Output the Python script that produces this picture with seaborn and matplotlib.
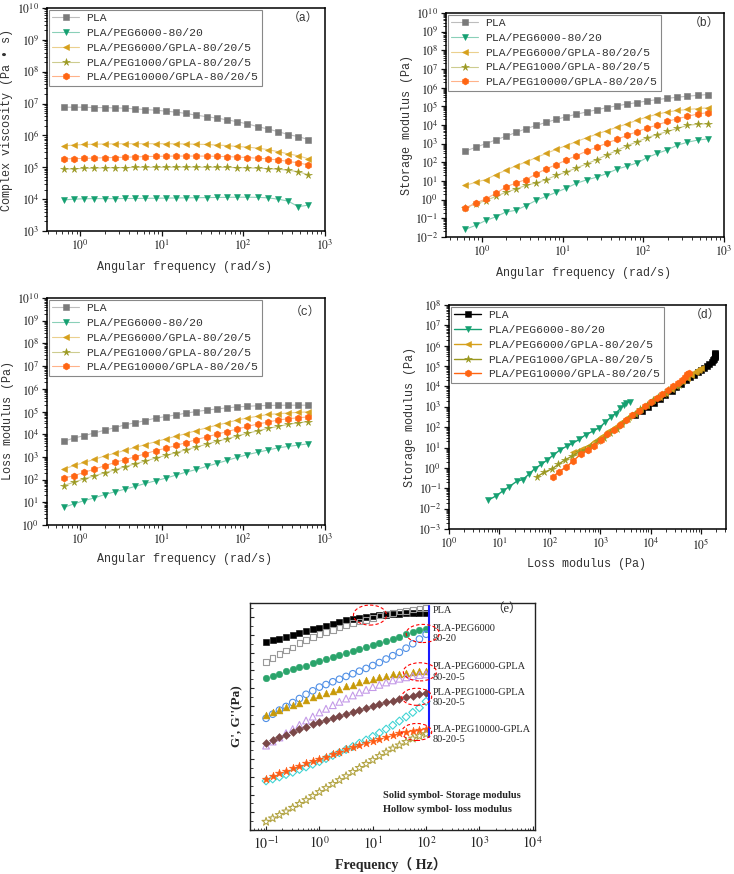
import numpy as np
import pandas as pd
import matplotlib
matplotlib.use('Agg')
import matplotlib.pyplot as plt
from matplotlib.patches import Ellipse
from matplotlib.ticker import LogLocator, FuncFormatter, NullFormatter
import seaborn as sns

sns.set_style('ticks')
plt.rcParams['font.family'] = ['Liberation Mono', 'Noto Sans CJK SC', 'DejaVu Sans']
plt.rcParams['mathtext.fontset'] = 'stix'

# ── Data (a)-(d): angular frequency sweep ─────────────────────────
omega = [0.628, 0.838, 1.12, 1.49, 1.99, 2.65, 3.53, 4.71, 6.28, 8.38, 11.2, 14.9,
         19.9, 26.5, 35.3, 47.1, 62.8, 83.8, 112, 149, 199, 265, 353, 471, 628]

LABELS = ['PLA', 'PLA/PEG6000-80/20', 'PLA/PEG6000/GPLA-80/20/5',
          'PLA/PEG1000/GPLA-80/20/5', 'PLA/PEG10000/GPLA-80/20/5']

# complex viscosity (Pa·s)
eta_pla = [7.7e6, 7.7e6, 7.7e6, 7.5e6, 7.5e6, 7.3e6, 7.2e6, 6.8e6, 6.5e6, 6.2e6, 5.8e6, 5.4e6,
           4.9e6, 4.3e6, 3.9e6, 3.5e6, 3.1e6, 2.7e6, 2.3e6, 1.9e6, 1.6e6, 1.32e6, 1.07e6, 9.2e5, 7.4e5]
eta_peg6 = [9.5e3, 1.0e4, 1.03e4, 1.04e4, 1.04e4, 1.04e4, 1.05e4, 1.05e4, 1.06e4, 1.07e4, 1.08e4, 1.09e4,
            1.1e4, 1.11e4, 1.12e4, 1.13e4, 1.14e4, 1.15e4, 1.15e4, 1.14e4, 1.1e4, 1.0e4, 8.7e3, 5.8e3, 6.5e3]
eta_peg6g = [4.7e5, 5.0e5, 5.2e5, 5.3e5, 5.4e5, 5.45e5, 5.5e5, 5.5e5, 5.5e5, 5.5e5, 5.5e5, 5.45e5,
             5.4e5, 5.3e5, 5.2e5, 5.0e5, 4.8e5, 4.5e5, 4.3e5, 4.0e5, 3.6e5, 3.1e5, 2.65e5, 2.3e5, 1.85e5]
eta_peg1g = [8.7e4, 9.0e4, 9.2e4, 9.4e4, 9.6e4, 9.7e4, 9.8e4, 9.9e4, 1.0e5, 1.0e5, 1.0e5, 1.01e5,
             1.01e5, 1.01e5, 1.0e5, 1.0e5, 9.9e4, 9.8e4, 9.6e4, 9.4e4, 9.1e4, 8.7e4, 8.1e4, 7.3e4, 5.8e4]
eta_peg10g = [1.83e5, 1.87e5, 1.9e5, 1.95e5, 2.0e5, 2.03e5, 2.07e5, 2.12e5, 2.17e5, 2.2e5, 2.23e5, 2.25e5,
              2.25e5, 2.25e5, 2.24e5, 2.21e5, 2.16e5, 2.1e5, 2.02e5, 1.93e5, 1.83e5, 1.7e5, 1.53e5, 1.38e5, 1.18e5]

# storage modulus G' (Pa)
gp_pla = [400, 640, 1000, 1600, 2500, 4000, 6300, 9500, 1.4e4, 2.0e4, 2.8e4, 3.8e4,
          5.0e4, 6.6e4, 8.5e4, 1.07e5, 1.32e5, 1.6e5, 1.95e5, 2.3e5, 2.7e5, 3.1e5, 3.5e5, 3.9e5, 4.3e5]
gp_peg6 = [0.026, 0.042, 0.077, 0.12, 0.22, 0.27, 0.48, 0.92, 1.5, 2.5, 4.2, 7.6,
           11.5, 16, 25, 43, 62, 93, 180, 300, 470, 830, 1200, 1550, 1800]
gp_peg6g = [5.9, 8.5, 12, 22, 38, 65, 105, 180, 300, 500, 800, 1300,
            2100, 3200, 5000, 7500, 1.15e4, 1.8e4, 2.7e4, 3.8e4, 5.0e4, 6.0e4, 6.8e4, 7.6e4, 8.3e4]
gp_peg1g = [0.36, 0.61, 0.89, 1.5, 2.5, 3.7, 5.9, 7.9, 12, 20, 31, 50,
            83, 140, 250, 430, 770, 1260, 2100, 3100, 4500, 6600, 9600, 1.1e4, 1.17e4]
gp_peg10g = [0.36, 0.66, 1.1, 2.2, 4.8, 7.9, 12, 24, 45, 76, 135, 230,
             400, 650, 1070, 1700, 2800, 4400, 6900, 1.0e4, 1.55e4, 2.2e4, 2.9e4, 3.9e4, 4.6e4]

# loss modulus G'' (Pa)
gpp_pla = [4.9e3, 6.8e3, 8.7e3, 1.14e4, 1.5e4, 1.95e4, 2.6e4, 3.2e4, 4.0e4, 5.1e4, 6.0e4, 7.1e4,
           8.5e4, 1.0e5, 1.15e5, 1.3e5, 1.45e5, 1.6e5, 1.7e5, 1.8e5, 1.85e5, 1.88e5, 1.9e5, 1.9e5, 1.9e5]
gpp_peg6 = [6.0, 8.5, 12, 15.6, 22, 29, 38, 50, 68, 89, 116, 158,
            214, 280, 380, 515, 700, 950, 1260, 1600, 2000, 2500, 2900, 3300, 3800]
gpp_peg6g = [290, 420, 570, 780, 1100, 1440, 1950, 2600, 3500, 4700, 6200, 8100,
             1.07e4, 1.45e4, 1.9e4, 2.5e4, 3.2e4, 4.2e4, 5.2e4, 6.2e4, 7.4e4, 8.0e4, 8.6e4, 9.2e4, 9.7e4]
gpp_peg1g = [55, 77, 110, 147, 200, 270, 370, 500, 660, 890, 1170, 1550,
             2100, 2750, 3600, 4900, 6200, 8400, 1.1e4, 1.4e4, 1.8e4, 2.2e4, 2.7e4, 3.2e4, 3.6e4]
gpp_peg10g = [116, 150, 210, 290, 410, 570, 760, 1020, 1380, 1900, 2400, 3200,
              4300, 5800, 7600, 1.0e4, 1.3e4, 1.7e4, 2.2e4, 2.8e4, 3.4e4, 4.2e4, 4.8e4, 5.3e4, 5.8e4]

# ── Data (e): frequency sweep in Hz ───────────────────────────────
freq_hz = [0.1, 0.133, 0.178, 0.237, 0.316, 0.422, 0.562, 0.75, 1, 1.33, 1.78, 2.37,
           3.16, 4.22, 5.62, 7.5, 10, 13.3, 17.8, 23.7, 31.6, 42.2, 56.2, 75, 100]
e_pla_s = [4.0e10, 5.0e10, 6.2e10, 7.6e10, 1.0e11, 1.3e11, 1.6e11, 2.1e11, 2.6e11, 3.4e11, 4.4e11, 5.4e11,
           6.8e11, 8.3e11, 9.5e11, 1.1e12, 1.2e12, 1.35e12, 1.4e12, 1.5e12, 1.6e12, 1.65e12, 1.65e12, 1.65e12, 1.65e12]
e_pla_h = [2.95e9, 5.2e9, 8.3e9, 1.3e10, 2.0e10, 3.5e10, 5.2e10, 7.8e10, 1.1e11, 1.5e11, 1.9e11, 2.6e11,
           3.5e11, 4.6e11, 5.9e11, 7.2e11, 9.1e11, 1.23e12, 1.48e12, 1.74e12, 2.1e12, 2.3e12, 2.7e12, 3.1e12, 3.3e12]
e_peg6_s = [3.7e8, 5.0e8, 6.5e8, 8.9e8, 1.15e9, 1.5e9, 1.9e9, 2.5e9, 3.2e9, 4.2e9, 5.5e9, 7.1e9,
            9.1e9, 1.2e10, 1.55e10, 2.0e10, 2.6e10, 3.5e10, 4.6e10, 6.2e10, 7.9e10, 1.1e11, 1.5e11, 1.9e11, 2.3e11]
e_peg6_h = [2.0e6, 3.4e6, 5.8e6, 9.3e6, 1.55e7, 2.6e7, 4.5e7, 7.1e7, 1.15e8, 1.6e8, 2.3e8, 3.2e8,
            4.6e8, 6.5e8, 9.1e8, 1.3e9, 1.9e9, 2.8e9, 4.4e9, 6.8e9, 1.05e10, 1.8e10, 3.2e10, 5.9e10, 1.1e11]
e_peg6g_s = [3.2e6, 4.3e6, 6.0e6, 8.5e6, 1.15e7, 1.55e7, 2.2e7, 3.0e7, 4.1e7, 5.2e7, 7.1e7, 9.5e7,
             1.26e8, 1.6e8, 2.1e8, 2.75e8, 3.4e8, 4.3e8, 5.0e8, 6.0e8, 6.5e8, 7.1e8, 8.1e8, 8.9e8, 9.5e8]
e_peg6g_h = [5.8e4, 9.8e4, 1.66e5, 2.9e5, 4.9e5, 8.5e5, 1.5e6, 2.5e6, 4.3e6, 6.9e6, 1.1e7, 1.7e7,
             2.6e7, 3.9e7, 5.8e7, 8.1e7, 1.15e8, 1.55e8, 2.1e8, 2.75e8, 3.4e8, 4.1e8, 4.8e8, 5.5e8, 6.0e8]
e_peg1g_s = [7.9e4, 1.17e5, 1.66e5, 2.3e5, 3.3e5, 4.7e5, 6.6e5, 9.3e5, 1.26e6, 1.6e6, 2.1e6, 2.75e6,
             3.5e6, 4.7e6, 6.0e6, 7.8e6, 1.0e7, 1.3e7, 1.6e7, 2.0e7, 2.5e7, 3.2e7, 3.7e7, 4.5e7, 5.2e7]
e_peg1g_h = [590, 760, 980, 1350, 1800, 2600, 3600, 5100, 7200, 1.07e4, 1.6e4, 2.3e4,
             3.5e4, 5.1e4, 7.9e4, 1.2e5, 1.9e5, 3.0e5, 4.9e5, 8.1e5, 1.4e6, 2.4e6, 4.3e6, 7.8e6, 1.8e7]
e_peg10g_s = [760, 1120, 1580, 2240, 3000, 4300, 5900, 7900, 1.0e4, 1.4e4, 1.9e4, 2.6e4,
              3.5e4, 4.7e4, 6.0e4, 7.9e4, 1.07e5, 1.4e5, 1.8e5, 2.3e5, 2.9e5, 3.5e5, 3.9e5, 4.5e5, 4.9e5]
e_peg10g_h = [2.95, 4.6, 7.1, 11.2, 18, 30, 49, 83, 140, 235, 400, 660,
              1100, 1900, 3200, 5400, 8900, 1.5e4, 2.45e4, 4.0e4, 6.0e4, 9.3e4, 1.45e5, 2.0e5, 2.6e5]

E_NAMES = ['PLA', 'PLA-PEG6000\n80-20', 'PLA-PEG6000-GPLA\n80-20-5',
           'PLA-PEG1000-GPLA\n80-20-5', 'PLA-PEG10000-GPLA\n80-20-5']

# ── Styles ────────────────────────────────────────────────────────
COLORS = ['#7a7a7a', '#15a071', '#d6a01c', '#9a981f', '#ff6512']
MARKERS = ['s', 'v', '<', '*', 'h']
MSIZES = [4, 4.5, 4.5, 5.5, 5]
TXT = '#333333'
MONO = ['Liberation Mono', 'Noto Sans CJK SC', 'DejaVu Sans']
SERIF = ['Liberation Serif', 'Noto Sans CJK SC', 'DejaVu Sans']


def light(c, f=0.5):
    rgb = np.array(matplotlib.colors.to_rgb(c))
    return tuple(rgb + (1 - rgb) * f)


def dec_fmt(v, pos):
    return r'$10^{%d}$' % int(round(np.log10(v)))


def setup_log(ax, xlim, ylim, xdec, ydec, direction='out', ysize=8.5):
    ax.set_xscale('log')
    ax.set_yscale('log')
    ax.set_xlim(*xlim)
    ax.set_ylim(*ylim)
    ax.set_xticks([10.0 ** k for k in xdec])
    ax.set_yticks([10.0 ** k for k in ydec])
    ax.xaxis.set_minor_locator(LogLocator(base=10, subs=np.arange(2, 10), numticks=40))
    ax.yaxis.set_minor_locator(LogLocator(base=10, subs=np.arange(2, 10), numticks=40))
    ax.xaxis.set_minor_formatter(NullFormatter())
    ax.yaxis.set_minor_formatter(NullFormatter())
    ax.xaxis.set_major_formatter(FuncFormatter(dec_fmt))
    ax.yaxis.set_major_formatter(FuncFormatter(dec_fmt))
    ax.tick_params(which='major', direction=direction, length=3.5, width=0.9,
                   labelsize=ysize, colors='#111', labelcolor='#222', pad=2)
    ax.tick_params(which='minor', direction=direction, length=2, width=0.6, colors='#111')
    for s in ax.spines.values():
        s.set_visible(True)
        s.set_color('black')
        s.set_linewidth(1.1)


def draw_freq(ax, x, ys, colors, faded=True):
    for lab, y, c, m, ms in zip(LABELS, ys, colors, MARKERS, MSIZES):
        df = pd.DataFrame({'x': x, 'y': y})
        sns.lineplot(data=df, x='x', y='y', ax=ax, label=lab, sort=False, estimator=None,
                     color=light(c) if faded else c, lw=0.8 if faded else 1.0,
                     marker=m, markersize=ms, markerfacecolor=c, markeredgecolor=c,
                     markeredgewidth=0.4)


def finish(ax, xlabel, ylabel, tag, xl, yl, tagpos):
    ax.set_xlabel(xlabel, fontsize=8.5, color=TXT, family=MONO)
    ax.set_ylabel(ylabel, fontsize=8.5, color=TXT, family=MONO)
    ax.xaxis.set_label_coords(*xl)
    ax.yaxis.set_label_coords(*yl)
    ax.legend(loc='upper left', prop={'family': MONO, 'size': 8.2}, labelcolor=TXT,
              frameon=True, fancybox=False, edgecolor='#888888', framealpha=1,
              borderaxespad=0.15, handlelength=2.4, labelspacing=0.42, borderpad=0.3,
              handletextpad=0.6).get_frame().set_linewidth(0.8)
    ax.text(tagpos[0], tagpos[1], tag, transform=ax.transAxes, ha='center', va='center',
            fontsize=8.5, color=TXT, family=MONO)


fig = plt.figure(figsize=(7.34, 8.74), dpi=100)

# ── (a) complex viscosity ────────────────────────────────────────
ax_a = fig.add_axes([0.0640, 0.7357, 0.3787, 0.2551])
setup_log(ax_a, (0.39, 1000), (1e3, 1e10), range(0, 4), range(3, 11))
draw_freq(ax_a, omega, [eta_pla, eta_peg6, eta_peg6g, eta_peg1g, eta_peg10g], COLORS)
finish(ax_a, 'Angular frequency (rad/s)', 'Complex viscosity (Pa • s)', '（a）',
       (0.496, -0.135), (-0.122, 0.5), (0.92, 0.958))

# ── (b) storage modulus ──────────────────────────────────────────
ax_b = fig.add_axes([0.6076, 0.7288, 0.3787, 0.2563])
setup_log(ax_b, (0.36, 1000), (1e-2, 1e10), range(0, 4), range(-2, 11))
draw_freq(ax_b, omega, [gp_pla, gp_peg6, gp_peg6g, gp_peg1g, gp_peg10g], COLORS)
finish(ax_b, 'Angular frequency (rad/s)', 'Storage modulus (Pa)', '（b）',
       (0.496, -0.135), (-0.119, 0.5), (0.928, 0.955))

# ── (c) loss modulus ─────────────────────────────────────────────
ax_c = fig.add_axes([0.0640, 0.3993, 0.3787, 0.2597])
setup_log(ax_c, (0.39, 1000), (1e0, 1e10), range(0, 4), range(0, 11))
draw_freq(ax_c, omega, [gpp_pla, gpp_peg6, gpp_peg6g, gpp_peg1g, gpp_peg10g], COLORS)
finish(ax_c, 'Angular frequency (rad/s)', 'Loss modulus (Pa)', '（c）',
       (0.496, -0.123), (-0.119, 0.46), (0.928, 0.94))

# ── (d) Cole-Cole type plot ──────────────────────────────────────
ax_d = fig.add_axes([0.6117, 0.3947, 0.3774, 0.2563])
setup_log(ax_d, (1, 3.1e5), (1e-3, 1e8), range(0, 6), range(-3, 9))
d_colors = ['#000000'] + COLORS[1:]
for lab, xv, yv, c, m, ms in zip(LABELS,
                                 [gpp_pla, gpp_peg6, gpp_peg6g, gpp_peg1g, gpp_peg10g],
                                 [gp_pla, gp_peg6, gp_peg6g, gp_peg1g, gp_peg10g],
                                 d_colors, MARKERS, MSIZES):
    df = pd.DataFrame({'x': xv, 'y': yv})
    sns.lineplot(data=df, x='x', y='y', ax=ax_d, label=lab, sort=False, estimator=None,
                 color=c, lw=1.0, marker=m, markersize=ms, markerfacecolor=c,
                 markeredgecolor=c, markeredgewidth=0.4)
finish(ax_d, 'Loss modulus (Pa)', 'Storage modulus (Pa)', '（d）',
       (0.496, -0.13), (-0.119, 0.5), (0.924, 0.955))

# ── (e) G', G'' vs frequency ─────────────────────────────────────
ax_e = fig.add_axes([0.3406, 0.0503, 0.3883, 0.2597])
ax_e.set_xscale('log')
ax_e.set_yscale('log')
ax_e.set_xlim(0.05, 1.1e4)
ax_e.set_ylim(1, 10 ** 12.8)
ax_e.set_xticks([10.0 ** k for k in range(-1, 5)])
ax_e.xaxis.set_major_formatter(FuncFormatter(dec_fmt))
ax_e.xaxis.set_minor_locator(LogLocator(base=10, subs=np.arange(2, 10), numticks=40))
ax_e.xaxis.set_minor_formatter(NullFormatter())
ax_e.set_yticks([10.0 ** k for k in range(0, 13)])
ax_e.yaxis.set_minor_locator(LogLocator(base=10, subs=[3.16], numticks=40))
ax_e.yaxis.set_major_formatter(NullFormatter())
ax_e.yaxis.set_minor_formatter(NullFormatter())
ax_e.tick_params(which='major', direction='in', length=3, width=0.8, labelsize=10, pad=4)
ax_e.tick_params(which='minor', direction='in', length=1.8, width=0.6)
for s in ax_e.spines.values():
    s.set_visible(True)
    s.set_color('#222')
    s.set_linewidth(1.0)

e_series = [
    (e_pla_s, '#000000', 's', True, 16),
    (e_pla_h, '#9a9a9a', 's', False, 16),
    (e_peg6_s, '#2aa46b', 'o', True, 22),
    (e_peg6_h, '#4f8fe6', 'o', False, 22),
    (e_peg6g_s, '#c89a08', '^', True, 24),
    (e_peg6g_h, '#c49ae8', '^', False, 24),
    (e_peg1g_s, '#7a4848', 'D', True, 16),
    (e_peg1g_h, '#3fd4d4', 'D', False, 16),
    (e_peg10g_s, '#ff5a12', '*', True, 38),
    (e_peg10g_h, '#b3a545', '*', False, 38),
]
for vals, c, m, filled, size in e_series:
    df = pd.DataFrame({'f': freq_hz, 'g': vals})
    sns.scatterplot(data=df, x='f', y='g', ax=ax_e, marker=m, s=size,
                    color=c, facecolors=c if filled else 'none', edgecolor=c,
                    linewidth=0.4 if filled else 0.8, zorder=3)

ax_e.set_xlabel('Frequency（ Hz）', fontsize=10, fontweight='bold', family=SERIF)
ax_e.set_ylabel("G', G''(Pa)", fontsize=9.5, fontweight='bold', family=SERIF)
ax_e.xaxis.set_label_coords(0.494, -0.118)
ax_e.yaxis.set_label_coords(-0.025, 0.5)

ax_e.axvline(112, ymin=0.41, ymax=0.987, color='#1a1aff', lw=1.5, zorder=4)

name_y = [0.969, 0.866, 0.696, 0.584, 0.421]
for name, ny in zip(E_NAMES, name_y):
    ax_e.text(0.642, ny, name, transform=ax_e.transAxes, ha='left', va='center',
              fontsize=7.5, family=SERIF, linespacing=1.25)

ellipses = [(0.421, 0.947, 0.116, 0.088), (0.606, 0.866, 0.116, 0.08),
            (0.596, 0.697, 0.116, 0.08), (0.585, 0.587, 0.105, 0.075),
            (0.585, 0.432, 0.105, 0.075)]
for cx, cy, w, h in ellipses:
    ax_e.add_patch(Ellipse((cx, cy), w, h, transform=ax_e.transAxes, fill=False,
                           ec='red', ls=(0, (3, 2)), lw=0.8, zorder=5))

ax_e.text(0.90, 0.974, '（e）', transform=ax_e.transAxes, ha='center', va='center',
          fontsize=9, family=SERIF)
ax_e.text(0.467, 0.154, 'Solid symbol- Storage modulus', transform=ax_e.transAxes,
          ha='left', va='center', fontsize=7.5, fontweight='bold', family=SERIF)
ax_e.text(0.467, 0.0925, 'Hollow symbol- loss modulus', transform=ax_e.transAxes,
          ha='left', va='center', fontsize=7.5, fontweight='bold', family=SERIF)

fig.savefig('out.png', dpi=100)
